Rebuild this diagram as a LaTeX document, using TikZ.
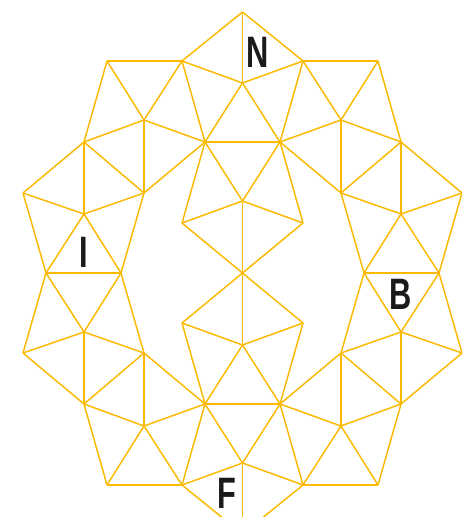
\documentclass[tikz,border=0pt]{standalone}
\usepackage{fontspec}
\newfontfamily\letterfont{Liberation Sans}[FakeStretch=0.7]
\definecolor{gold}{HTML}{FBB900}
\definecolor{ink}{HTML}{1A1A1A}
\tikzset{
  strut/.style={draw=gold, line width=1.1pt, line join=round},
  letter/.style={text=ink, inner sep=0pt, font=\letterfont\bfseries\fontsize{33}{33}\selectfont}
}

\begin{document}
\begin{tikzpicture}[x=0.75pt, y=-0.75pt]
  \useasboundingbox (0,0) rectangle (462,517);
  \clip (0,0) rectangle (462,517);
  % upper half, mirrored for the lower half (axis at y=273)
  \foreach \n/\x/\y in {0/242.5/12, 1/182/61, 2/303/61, 3/242.5/83, 4/107/61, 5/378/61,
      6/144/120, 7/341/120, 8/205/142, 9/280/142, 10/84/142, 11/401/142,
      12/23/193, 13/462/193, 14/144/193, 15/341/193, 16/84/214, 17/401/214,
      18/242.5/201, 19/182/223, 20/303/223, 21/242.5/273,
      22/46/273, 23/121/273, 24/364/273, 25/439/273} {
    \coordinate (t\n) at (\x,\y);
    \coordinate (b\n) at (\x,546-\y);
  }
  \foreach \a/\b in {0/1, 0/2, 0/3, 1/3, 2/3, 1/4, 2/5, 1/6, 2/7, 1/8, 2/9, 3/8, 3/9,
      4/6, 5/7, 4/10, 5/11, 6/10, 7/11, 6/8, 7/9, 6/14, 7/15,
      10/12, 11/13, 10/14, 11/15, 10/16, 11/17, 12/16, 13/17, 14/16, 15/17,
      8/14, 9/15, 8/9, 8/18, 9/18, 8/19, 9/20, 18/19, 18/20, 18/21, 19/21, 20/21,
      12/22, 13/25, 16/22, 17/25, 16/23, 17/24, 14/23, 15/24} {
    \draw[strut] (t\a) -- (t\b);
    \draw[strut] (b\a) -- (b\b);
  }
  \draw[strut] (t22) -- (t23);
  \draw[strut] (t24) -- (t25);
  % letters
  \node[letter] (north) at (258,52) {N};
  \node[letter] (iota) at (84,252) {I};
  \node[letter] (beta) at (401,294) {B};
  \node[letter] (foot) at (227,493) {F};
\end{tikzpicture}
\end{document}
